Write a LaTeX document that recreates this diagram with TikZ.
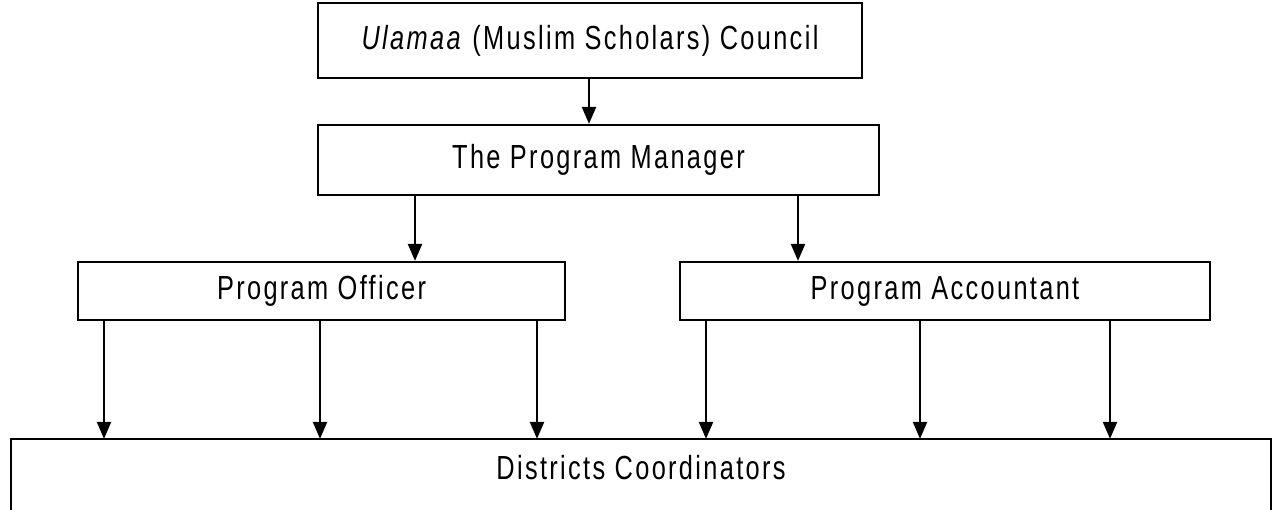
\documentclass[tikz,border=0pt]{standalone}
\usepackage{fontspec}
\setmainfont{Liberation Sans}[FakeStretch=0.76,LetterSpace=7]
\usetikzlibrary{arrows.meta}
\tikzset{
  box/.style={draw,line width=1.3pt,inner sep=0pt,font=\fontsize{19}{23}\selectfont},
}
\begin{document}
\begin{tikzpicture}[x=0.02cm,y=-0.02cm,>={Triangle[length=0.34cm,width=0.28cm]},line width=1.3pt]
\clip (0,0) rectangle (1281,510);
% chart boxes
\node[box,minimum width=10.88cm,minimum height=1.5cm] (council) at (590,40.5) {\textit{Ulamaa} (Muslim Scholars) Council};
\node[box,minimum width=11.22cm,minimum height=1.4cm] (manager) at (598.5,160) {The Program Manager};
\node[box,minimum width=9.74cm,minimum height=1.16cm] (officer) at (321.5,291) {Program Officer};
\node[box,minimum width=10.6cm,minimum height=1.16cm] (accountant) at (945,291) {Program Accountant};
\node[box,draw=none,minimum width=25.16cm,minimum height=1.12cm] (districts) at (641,468) {Districts Coordinators};
% bottom box runs off the page
\draw (districts.west |- 0,520) -- (districts.north west) -- (districts.north east) -- (districts.east |- 0,520);
% arrows
\draw[->] (council.south -| 589,0) -- (manager.north -| 589,0);
\draw[->] (manager.south -| 415,0) -- (officer.north -| 415,0);
\draw[->] (manager.south -| 798,0) -- (accountant.north -| 798,0);
\foreach \x in {104,320,537}
  \draw[->] (officer.south -| \x,0) -- (districts.north -| \x,0);
\foreach \x in {706,920,1110}
  \draw[->] (accountant.south -| \x,0) -- (districts.north -| \x,0);
\end{tikzpicture}
\end{document}
